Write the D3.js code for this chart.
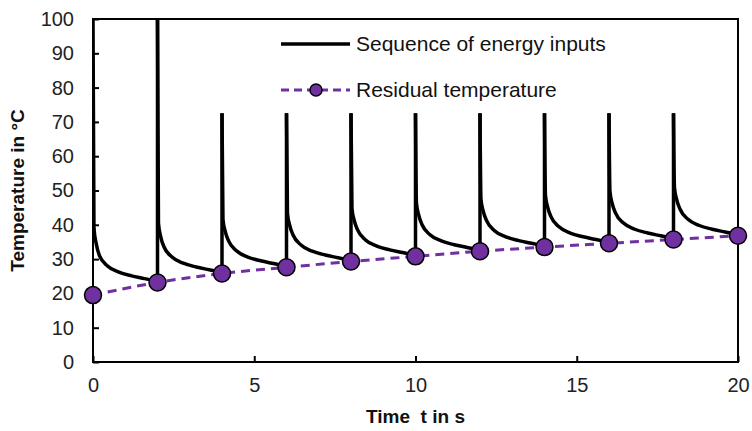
<!DOCTYPE html>
<html>
<head>
<meta charset="utf-8">
<script src="https://cdn.jsdelivr.net/npm/d3@7"></script>
<style>
  html, body { margin: 0; padding: 0; background: #fff; }
  svg { display: block; font-family: Arial, "Liberation Sans", sans-serif; }
</style>
</head>
<body>
<svg id="chart" width="752" height="431"></svg>
<script>
// ---------- data ----------
const residualTimes = [0, 2, 4, 6, 8, 10, 12, 14, 16, 18, 20];
const residualTemps = [19.5, 23.2, 25.8, 27.6, 29.3, 30.8, 32.3, 33.5, 34.6, 35.7, 36.8];

// sequence of energy inputs: [time, temperature]
const energyCurve = [
  [0, 100], [0.03, 39], [0.1, 34.5], [0.2, 31], [0.45, 28], [0.8, 26.2], [1.2, 25.1], [1.6, 24.3], [2, 23.4],
  [2, 100], [2.03, 40.5], [2.1, 36.5], [2.2, 33.6], [2.45, 30.6], [2.8, 28.8], [3.2, 27.7], [3.6, 26.9], [4, 26.1],
  [4, 72.5], [4.03, 41.6], [4.1, 38.1], [4.2, 35.4], [4.45, 32.4], [4.8, 30.6], [5.2, 29.5], [5.6, 28.7], [6, 27.9],
  [6, 72.5], [6.03, 43.3], [6.1, 39.8], [6.2, 37.1], [6.45, 34.1], [6.8, 32.3], [7.2, 31.2], [7.6, 30.4], [8, 29.6],
  [8, 72.5], [8.03, 44.8], [8.1, 41.3], [8.2, 38.6], [8.45, 35.6], [8.8, 33.8], [9.2, 32.7], [9.6, 31.9], [10, 31.1],
  [10, 72.5], [10.03, 46.3], [10.1, 42.8], [10.2, 40.1], [10.45, 37.1], [10.8, 35.3], [11.2, 34.2], [11.6, 33.4], [12, 32.6],
  [12, 72.5], [12.03, 47.5], [12.1, 44], [12.2, 41.3], [12.45, 38.3], [12.8, 36.5], [13.2, 35.4], [13.6, 34.6], [14, 33.8],
  [14, 72.5], [14.03, 48.6], [14.1, 45.1], [14.2, 42.4], [14.45, 39.4], [14.8, 37.6], [15.2, 36.5], [15.6, 35.7], [16, 34.9],
  [16, 72.5], [16.03, 49.7], [16.1, 46.2], [16.2, 43.5], [16.45, 40.5], [16.8, 38.7], [17.2, 37.6], [17.6, 36.8], [18, 36],
  [18, 72.5], [18.03, 50.8], [18.1, 47.3], [18.2, 44.6], [18.45, 41.6], [18.8, 39.8], [19.2, 38.7], [19.6, 37.9], [20, 37.1]
];

const xTicks = [0, 5, 10, 15, 20];
const yTicks = [0, 10, 20, 30, 40, 50, 60, 70, 80, 90, 100];
const seriesNames = ["Sequence of energy inputs", "Residual temperature"];
const xTitle = "Time  t in s";
const yTitle = "Temperature in °C";

// ---------- layout ----------
const svg = d3.select("#chart");
const m = { left: 93, top: 19, right: 14, bottom: 69 };
const W = 752, H = 431;
const x = d3.scaleLinear().domain([0, 20]).range([m.left, W - m.right]);
const y = d3.scaleLinear().domain([0, 100]).range([H - m.bottom, m.top]);
const purple = "#7030A0";

svg.append("defs").append("clipPath").attr("id", "plotclip")
  .append("rect").attr("x", m.left).attr("y", m.top)
  .attr("width", x(20) - m.left).attr("height", y(0) - m.top);

// ---------- axes ----------
const xAxis = d3.axisBottom(x).tickValues(xTicks).tickSize(-6).tickPadding(16).tickFormat(d3.format("d"));
const yAxis = d3.axisLeft(y).tickValues(yTicks).tickSize(-6).tickPadding(19).tickFormat(d3.format("d"));

const gx = svg.append("g").attr("transform", `translate(0,${y(0)})`).call(xAxis);
const gy = svg.append("g").attr("transform", `translate(${m.left},0)`).call(yAxis);
[gx, gy].forEach(g => {
  g.select(".domain").remove();
  g.selectAll(".tick line").attr("stroke", "#000").attr("stroke-width", 2);
  g.selectAll(".tick text").attr("fill", "#222").style("font-size", "20px");
});

// frame
svg.append("rect").attr("x", m.left).attr("y", m.top)
  .attr("width", x(20) - m.left).attr("height", y(0) - m.top)
  .attr("fill", "none").attr("stroke", "#000").attr("stroke-width", 2);

// ---------- energy curve ----------
const segments = [];
let cur = [energyCurve[0]];
for (let i = 1; i < energyCurve.length; i++) {
  const p = energyCurve[i], q = energyCurve[i - 1];
  if (p[0] === q[0]) {
    segments.push({ type: "decay", pts: cur });
    segments.push({ type: "spike", pts: [q, p] });
    cur = [p];
  } else cur.push(p);
}
segments.push({ type: "decay", pts: cur });

const lineSmooth = d3.line().x(d => x(d[0])).y(d => y(d[1])).curve(d3.curveMonotoneX);
const lineStraight = d3.line().x(d => x(d[0])).y(d => y(d[1]));

const gc = svg.append("g").attr("clip-path", "url(#plotclip)");
gc.selectAll("path.seg").data(segments).join("path")
  .attr("class", "seg")
  .attr("d", d => d.type === "decay" ? lineSmooth(d.pts) : lineStraight(d.pts))
  .attr("fill", "none").attr("stroke", "#000").attr("stroke-width", 3.5)
  .attr("stroke-linecap", "butt").attr("stroke-linejoin", "round");

// ---------- residual temperature ----------
const resData = residualTimes.map((t, i) => [t, residualTemps[i]]);
svg.append("path").datum(resData)
  .attr("d", d3.line().x(d => x(d[0])).y(d => y(d[1])).curve(d3.curveMonotoneX))
  .attr("fill", "none").attr("stroke", purple).attr("stroke-width", 3)
  .attr("stroke-dasharray", "9,6");
svg.selectAll("circle.res").data(resData).join("circle")
  .attr("class", "res")
  .attr("cx", d => x(d[0])).attr("cy", d => y(d[1])).attr("r", 8.5)
  .attr("fill", purple).attr("stroke", "#000").attr("stroke-width", 1.5);

// ---------- legend ----------
const lg = svg.append("g");
lg.append("line").attr("x1", 281).attr("x2", 350).attr("y1", 44).attr("y2", 44)
  .attr("stroke", "#000").attr("stroke-width", 3.5);
lg.append("text").attr("x", 356).attr("y", 44).attr("dy", "0.35em")
  .style("font-size", "21px").attr("fill", "#111").text(seriesNames[0]);
lg.append("line").attr("x1", 281).attr("x2", 350).attr("y1", 90).attr("y2", 90)
  .attr("stroke", purple).attr("stroke-width", 3).attr("stroke-dasharray", "8,5");
lg.append("circle").attr("cx", 316).attr("cy", 90).attr("r", 6)
  .attr("fill", purple).attr("stroke", "#000").attr("stroke-width", 1.5);
lg.append("text").attr("x", 356).attr("y", 90).attr("dy", "0.35em")
  .style("font-size", "21px").attr("fill", "#111").text(seriesNames[1]);

// ---------- titles ----------
svg.append("text").attr("x", (m.left + x(20)) / 2).attr("y", 423)
  .attr("text-anchor", "middle").style("font-size", "19px").style("font-weight", "bold")
  .style("white-space", "pre").attr("fill", "#111").text(xTitle);
svg.append("text").attr("transform", `translate(24,${(m.top + y(0)) / 2}) rotate(-90)`)
  .attr("text-anchor", "middle").style("font-size", "19px").style("font-weight", "bold")
  .attr("fill", "#111").text(yTitle);
</script>
</body>
</html>
